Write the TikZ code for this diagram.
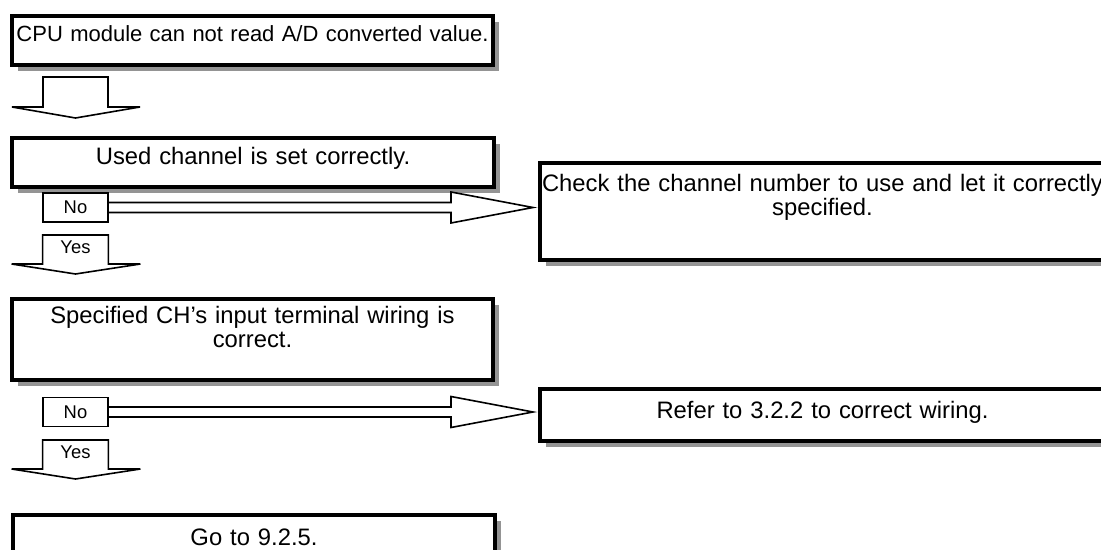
\documentclass[tikz,border=0pt]{standalone}
\usepackage{fontspec}
\setmainfont{Liberation Sans}
\usetikzlibrary{calc, shadows}

\begin{document}
\begin{tikzpicture}[
        x=0.5pt, y=-0.5pt,
        stepbox/.style={draw, line width=2pt, fill=white, anchor=north west, inner sep=0pt, align=center,
            font=\fontsize{11.9}{12}\selectfont,
            drop shadow={shadow xshift=3.2pt, shadow yshift=-3.2pt, fill=black!42, opacity=1}},
        tag/.style={draw, line width=0.8pt, fill=white, inner sep=0pt, minimum width=32.5pt, minimum height=14.5pt, font=\fontsize{9.2}{10}\selectfont},
        yestag/.style={inner sep=0pt, anchor=north, minimum width=32.5pt, minimum height=12pt, font=\fontsize{9.2}{10}\selectfont},
        flow/.style={draw, line width=0.8pt, line join=miter}
    ]
        \path[use as bounding box, fill=white] (0,0) rectangle (1101,550);

        % Left column
        \node[stepbox, text width=240.5pt, text height=12.75pt, text depth=11.75pt, font=\fontsize{11}{12}\selectfont] (cpu) at (10,14) {CPU module can not read A/D converted value.};
        \node[stepbox, text width=241pt, text height=13.25pt, text depth=11.25pt] (used) at (10,136) {Used channel is set correctly.};
        \node[stepbox, text width=240.5pt, text height=12.25pt, text depth=28.25pt] (spec) at (10,297) {Specified CH’s input terminal wiring is\\correct.};
        \node[stepbox, text width=241pt, text height=15.25pt, text depth=3.25pt] (go) at (11,513) {Go to 9.2.5.};

        % Right column
        \node[stepbox, text width=282.5pt, text height=14.25pt, text depth=34.25pt] (check) at (538,161) {Check the channel number to use and let it correctly\\specified.};
        \node[stepbox, text width=282.5pt, text height=14.75pt, text depth=11.25pt] (refer) at (538,387) {Refer to 3.2.2 to correct wiring.};

        % No / Yes tags
        \node[tag] (no1) at (75.5,207.5) {No};
        \node[yestag] (yes1) at (75.5,235) {Yes};
        \node[tag] (no2) at (75.5,412) {No};
        \node[yestag] (yes2) at (75.5,440) {Yes};

        % Down arrow under the first box
        \coordinate (down0) at (43,77);
        \draw[flow] (down0) -- ++(65,0) -- ++(0,30) -- ++(32,0) -- ($(down0)+(32.5,41)$) -- ($(down0)+(-31,30)$) -- ++(31,0) -- cycle;

        % Yes arrows
        \foreach \y in {yes1, yes2} {
            \draw[flow] (\y.north west) -- (\y.north east) -- ++(0,29) -- ++(32,0) -- ($(\y.north)+(0,39)$)
                -- ($(\y.north west)+(-31,29)$) -- ++(31,0) -- cycle;
        }

        % No arrows (double shaft)
        \coordinate (tip1) at ($(no1.east -| check.west)+(-5,0)$);
        \coordinate (tip2) at ($(no2.east -| refer.west)+(-5,0)$);
        \draw[flow] ($(no1.east)+(0,-5)$) -- ($(tip1)+(-82,-5)$) -- ($(tip1)+(-82,-15.5)$) -- (tip1)
            -- ($(tip1)+(-82,15.5)$) -- ($(tip1)+(-82,5)$) -- ($(no1.east)+(0,5)$);
        \draw[flow] ($(no2.east)+(0,-5)$) -- ($(tip2)+(-82,-5)$) -- ($(tip2)+(-82,-15.5)$) -- (tip2)
            -- ($(tip2)+(-82,15.5)$) -- ($(tip2)+(-82,5)$) -- ($(no2.east)+(0,5)$);

\end{tikzpicture}
\end{document}
